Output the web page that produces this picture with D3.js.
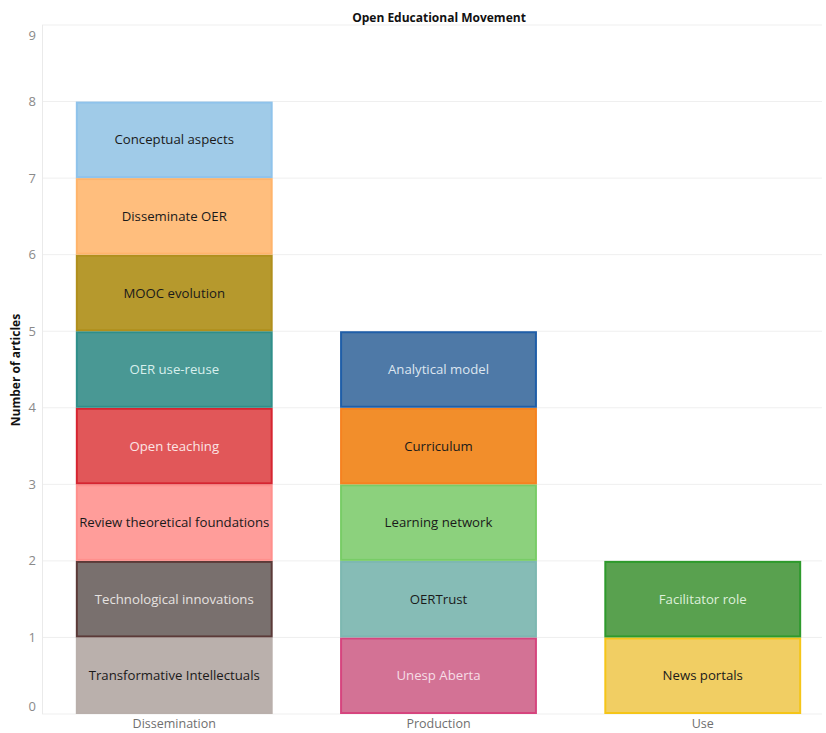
<!DOCTYPE html>
<html><head><meta charset="utf-8">
<script src="https://cdn.jsdelivr.net/npm/d3@7"></script>
<style>body{margin:0;background:#fff}svg{display:block}</style>
</head><body>
<svg id="c" width="826" height="733"></svg>
<script>
const title = "Open Educational Movement";
const yTitle = "Number of articles";
const categories = ["Dissemination", "Production", "Use"];
const segCategory = ["Dissemination","Dissemination","Dissemination","Dissemination","Dissemination","Dissemination","Dissemination","Dissemination",
  "Production","Production","Production","Production","Production","Use","Use"];
const segLabels = ["Transformative Intellectuals","Technological innovations","Review theoretical foundations","Open teaching","OER use-reuse","MOOC evolution","Disseminate OER","Conceptual aspects",
  "Unesp Aberta","OERTrust","Learning network","Curriculum","Analytical model","News portals","Facilitator role"];
const segValues = [1,1,1,1,1,1,1,1,1,1,1,1,1,1,1];
const segColors = ["#BAB0AC","#79706E","#FF9D9A","#E15759","#499894","#B6992D","#FFBE7D","#A0CBE8",
  "#D37295","#86BCB6","#8CD17D","#F28E2B","#4E79A7","#F1CE63","#59A14F"];
const segText = ["#1a1a1a","#e6e2e0","#1a1a1a","#fbe4e4","#d8efed","#1a1a1a","#1a1a1a","#1a1a1a",
  "#f6dde6","#1a1a1a","#1a1a1a","#1a1a1a","#dde6f0","#1a1a1a","#def0da"];
const segStroke = ["#b9afab","#5b3a38","#ff8f8c","#d62531","#2f8f8a","#b08f1c","#ffb46b","#8fc3eb",
  "#d6457e","#7db8b1","#78cc66","#f58220","#1f5ea8","#f5c518","#2e9a2c"];
const yTicks = [0,1,2,3,4,5,6,7,8,9];

const svg = d3.select("#c");
const font = "'Open Sans', 'Noto Sans', sans-serif";
const x = d3.scaleBand().domain(categories).range([42, 835]).paddingInner(0.255).paddingOuter(0.128);
const y = d3.scaleLinear().domain([0, 9]).range([714, 25]);

// gridlines
svg.append("g").selectAll("line").data(yTicks).join("line")
  .attr("x1", 42).attr("x2", 822).attr("y1", d => y(d)).attr("y2", d => y(d))
  .attr("stroke", "#efefef").attr("stroke-width", 1);
svg.append("line").attr("x1", 42.5).attr("x2", 42.5).attr("y1", y(9)).attr("y2", y(0))
  .attr("stroke", "#eaeaea");

// y tick labels
svg.append("g").selectAll("text").data(yTicks).join("text")
  .attr("x", 36).attr("y", d => Math.max(Math.min(y(d), 706), 35))
  .attr("dy", "0.35em").attr("text-anchor", "end")
  .attr("font-family", font).attr("font-size", 13).attr("fill", "#8a8a8a")
  .text(d => d);

// stacked segments
const segs = [];
const acc = {};
segLabels.forEach((l, i) => {
  const c = segCategory[i];
  const y0 = acc[c] || 0;
  const y1 = y0 + segValues[i];
  acc[c] = y1;
  segs.push({label: l, cat: c, y0, y1, color: segColors[i], text: segText[i], stroke: segStroke[i]});
});
const g = svg.append("g");
g.selectAll("rect").data(segs).join("rect")
  .attr("x", d => x(d.cat) + 1).attr("width", x.bandwidth() - 2)
  .attr("y", d => y(d.y1) + 1).attr("height", d => y(d.y0) - y(d.y1) - 2)
  .attr("fill", d => d.color).attr("stroke", d => d.stroke).attr("stroke-width", 2);
g.selectAll("text").data(segs).join("text")
  .attr("x", d => x(d.cat) + x.bandwidth() / 2)
  .attr("y", d => (y(d.y0) + y(d.y1)) / 2)
  .attr("dy", "0.35em").attr("text-anchor", "middle")
  .attr("font-family", font).attr("font-size", 13.2).attr("fill", d => d.text)
  .text(d => d.label);

// x labels
svg.append("g").selectAll("text").data(categories).join("text")
  .attr("x", d => x(d) + x.bandwidth() / 2).attr("y", 724).attr("dy", "0.35em")
  .attr("text-anchor", "middle").attr("font-family", font).attr("font-size", 12.5).attr("fill", "#6f6f6f")
  .text(d => d);

// titles
svg.append("text").attr("x", 439).attr("y", 18).attr("dy", "0.35em").attr("text-anchor", "middle")
  .attr("font-family", font).attr("font-size", 12).attr("font-weight", "bold").attr("fill", "#111")
  .text(title);
svg.append("text").attr("transform", "translate(16,370) rotate(-90)").attr("dy", "0.35em")
  .attr("text-anchor", "middle").attr("font-family", font).attr("font-size", 12).attr("font-weight", "bold").attr("fill", "#111")
  .text(yTitle);
</script>
</body></html>
